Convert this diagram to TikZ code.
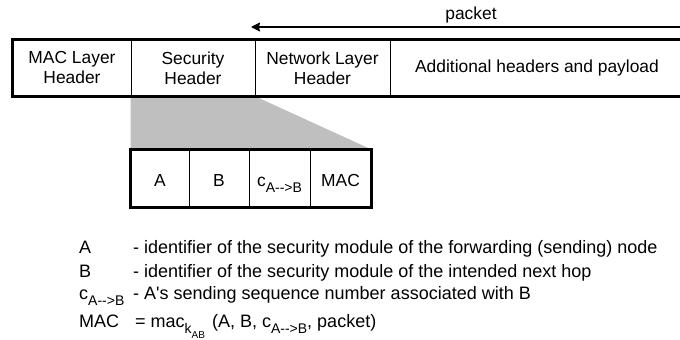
\documentclass[tikz,border=0pt]{standalone}
\usepackage{fontspec}
\newfontfamily\arialf{Liberation Sans}
\usetikzlibrary{arrows.meta}
\newcommand{\lowsub}[2][14]{\raisebox{-0.36em}[0pt][0pt]{\fontsize{#1}{#1}\selectfont #2}}
\begin{document}
\begin{tikzpicture}[x=1pt,y=1pt,
  font=\arialf\fontsize{17.4}{20}\selectfont,
  cell/.style={draw, line width=1pt, inner sep=0pt, align=center},
  subcell/.style={cell, minimum height=57, text height=16pt, text depth=0pt},
  outer/.style={line width=2.7pt},
  legend/.style={anchor=base west, inner sep=0pt, font=\arialf\fontsize{18}{20}\selectfont},
  shade/.style={fill=black!25}]
\useasboundingbox (0,0) rectangle (680,-340);
\clip (0,0) rectangle (680,-340);
% packet header cells
\node[cell, minimum width=118, minimum height=56] (mac) at (72,-68) {MAC Layer\\Header};
\node[cell, minimum width=124, minimum height=56] (sec) at (193,-68) {Security\\Header};
\node[cell, minimum width=135, minimum height=56] (net) at (322.5,-68) {Network Layer\\Header};
\node[cell, minimum width=294, minimum height=56] (pay) at (537,-68) {Additional headers and payload};
% security header detail cells
\node[subcell, minimum width=58] (fa) at (160,-178.5) {A};
\node[subcell, minimum width=60] (fb) at (219,-178.5) {B};
\node[subcell, minimum width=61] (fc) at (279.5,-178.5) {c\lowsub{A-->B}};
\node[subcell, minimum width=61] (fm) at (340.5,-178.5) {MAC};
% expansion wedge
\fill[shade] (sec.south west) -- (sec.south east) -- (fm.north east) -- (fa.north west) -- cycle;
% thick outlines
\draw[outer] (mac.north west) rectangle (pay.south east);
\draw[outer] (fa.north west) rectangle (fm.south east);
% packet arrow
\coordinate (pr) at (690,-27);
\coordinate (pl) at (251,-27);
\draw[line width=1.1pt, -{Stealth[length=9pt,width=9pt,inset=1pt]}] (pr) -- (pl);
\node[anchor=base, inner sep=0pt] (plabel) at (471,-19.5) {packet};
% legend
\node[legend] (kA) at (79,-253) {A};
\node[legend] (dA) at (133,-253) {- identifier of the security module of the forwarding (sending) node};
\node[legend] (kB) at (79,-277) {B};
\node[legend] (dB) at (133,-277) {- identifier of the security module of the intended next hop};
\node[legend] (kC) at (79,-299) {c\lowsub{A-->B}};
\node[legend] (dC) at (133,-299) {- A's sending sequence number associated with B};
\node[legend] (kM) at (79,-327) {MAC};
\node[legend] (dM) at (135,-327) {= mac\lowsub{k\lowsub[10]{AB}}\hspace{2pt} (A, B, c\lowsub{A-->B}, packet)};
\end{tikzpicture}
\end{document}
